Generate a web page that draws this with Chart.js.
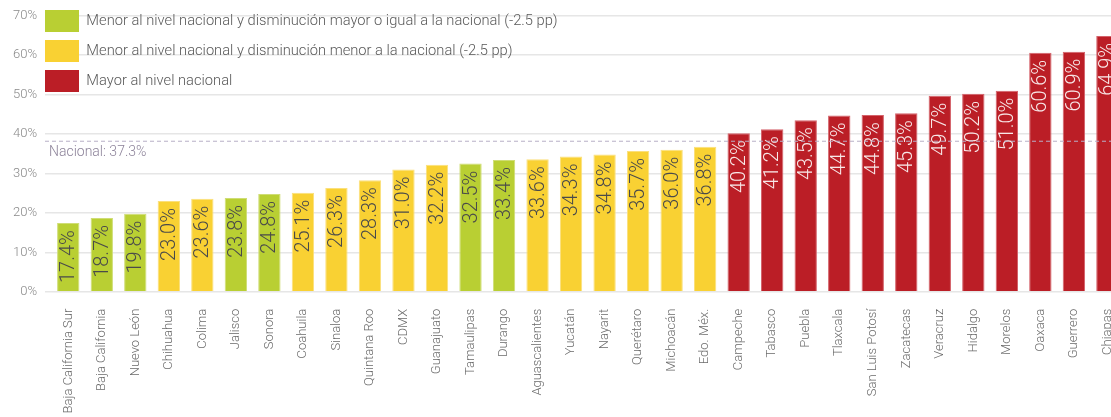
<!DOCTYPE html>
<html lang="es">
<head>
<meta charset="utf-8">
<title>Entidades federativas vs. nivel nacional</title>
<script src="https://cdn.jsdelivr.net/npm/chart.js@4.4.1/dist/chart.umd.min.js"></script>
<style>
    html, body { margin: 0; padding: 0; background: #fff; overflow: hidden; }
    #wrap { width: 1111px; height: 417px; overflow: hidden; }
    canvas { display: block; }
</style>
</head>
<body>
<div id="wrap"><canvas id="chart" width="1132" height="417"></canvas></div>
<script>
"use strict";

// --- Data ---
const estados = [
    'Baja California Sur', 'Baja California', 'Nuevo León', 'Chihuahua', 'Colima', 'Jalisco',
    'Sonora', 'Coahuila', 'Sinaloa', 'Quintana Roo', 'CDMX', 'Guanajuato', 'Tamaulipas',
    'Durango', 'Aguascalientes', 'Yucatán', 'Nayarit', 'Querétaro', 'Michoacán', 'Edo. Méx.',
    'Campeche', 'Tabasco', 'Puebla', 'Tlaxcala', 'San Luis Potosí', 'Zacatecas', 'Veracruz',
    'Hidalgo', 'Morelos', 'Oaxaca', 'Guerrero', 'Chiapas'
];
const porcentajes = [
    17.4, 18.7, 19.8, 23.0, 23.6, 23.8, 24.8, 25.1, 26.3, 28.3, 31.0, 32.2, 32.5, 33.4, 33.6, 34.3,
    34.8, 35.7, 36.0, 36.8, 40.2, 41.2, 43.5, 44.7, 44.8, 45.3, 49.7, 50.2, 51.0, 60.6, 60.9, 64.9
];
// v = verde, a = amarillo, r = rojo
const grupos = [
    'v', 'v', 'v', 'a', 'a', 'v', 'v', 'a', 'a', 'a', 'a', 'a', 'v', 'v', 'a', 'a',
    'a', 'a', 'a', 'a', 'r', 'r', 'r', 'r', 'r', 'r', 'r', 'r', 'r', 'r', 'r', 'r'
];
const leyendaTextos = [
    'Menor al nivel nacional y disminución mayor o igual a la nacional (-2.5 pp)',
    'Menor al nivel nacional y disminución menor a la nacional (-2.5 pp)',
    'Mayor al nivel nacional'
];
const leyendaGrupos = ['v', 'a', 'r'];
const nacionalTexto = 'Nacional: 37.3%';
const nacionalLinea = 38.3;   // where the dashed line sits in the picture
const yTicks = [0, 10, 20, 30, 40, 50, 60, 70];

// --- Styles ---
const FONT = '"Roboto", "Liberation Sans", Arial, sans-serif';
const fill = { v: '#b9cf33', a: '#f9d133', r: '#bb1e26' };
const edge = { v: '#cfdd75', a: '#fbe07c', r: '#d4626a' };
const labelInk = { v: '#4a4a4a', a: '#4a4a4a', r: '#f8e8e8' };
const gridColor = '#e6e6e6';

// Data labels inside the bars, rotated
const barLabels = {
    id: 'barLabels',
    afterDatasetsDraw(chart) {
        const { ctx } = chart;
        const meta = chart.getDatasetMeta(0);
        ctx.save();
        ctx.font = `300 20px ${FONT}`;
        ctx.textAlign = 'right';
        ctx.textBaseline = 'middle';
        meta.data.forEach((bar, i) => {
            ctx.save();
            ctx.translate(bar.x + 1, bar.y + 7);
            ctx.rotate(-Math.PI / 2);
            ctx.fillStyle = labelInk[grupos[i]];
            ctx.fillText(porcentajes[i].toFixed(1) + '%', 0, 0);
            ctx.restore();
        });
        ctx.restore();
    }
};

// Dashed national-level line and its caption
const nacional = {
    id: 'nacional',
    afterDatasetsDraw(chart) {
        const { ctx, chartArea } = chart;
        const y = chart.scales.y.getPixelForValue(nacionalLinea);
        ctx.save();
        ctx.strokeStyle = '#b8afc6';
        ctx.lineWidth = 1;
        ctx.setLineDash([4, 3]);
        ctx.beginPath();
        ctx.moveTo(chartArea.left - 6.5, y + 0.5);
        ctx.lineTo(chartArea.right, y + 0.5);
        ctx.stroke();
        ctx.setLineDash([]);
        ctx.font = `300 14px ${FONT}`;
        ctx.fillStyle = '#8c8299';
        ctx.textAlign = 'left';
        ctx.textBaseline = 'middle';
        ctx.fillText(nacionalTexto, chartArea.left - 2.5, y + 11.5);
        ctx.restore();
    }
};

// Move the legend up/left so it sits over the top-left corner of the plot
const legendShift = {
    id: 'legendShift',
    afterLayout(chart) {
        const lg = chart.legend;
        if (!lg) return;
        lg.left = chart.chartArea.left - 14.5;
        lg.top = 2;
        lg.right = lg.left + 700;
        lg.bottom = lg.top + 200;
    }
};

new Chart(document.getElementById('chart'), {
    type: 'bar',
    data: {
        labels: estados,
        datasets: [{
            label: 'Porcentaje',
            data: porcentajes,
            backgroundColor: grupos.map(g => fill[g]),
            borderColor: grupos.map(g => edge[g]),
            borderWidth: 1,
            categoryPercentage: 1,
            barPercentage: 0.667
        }]
    },
    options: {
        responsive: false,
        animation: false,
        layout: { padding: { top: 12, right: 0, bottom: 0, left: 0 } },
        plugins: {
            tooltip: { enabled: false },
            legend: {
                position: 'chartArea',
                align: 'start',
                labels: {
                    boxWidth: 34,
                    boxHeight: 22,
                    padding: 8,
                    textAlign: 'left',
                    color: '#595959',
                    font: { family: FONT, size: 14.7, weight: '300' },
                    generateLabels: () => leyendaTextos.map((t, i) => ({
                        text: t,
                        fillStyle: fill[leyendaGrupos[i]],
                        strokeStyle: edge[leyendaGrupos[i]],
                        lineWidth: 0,
                        fontColor: '#595959',
                        hidden: false,
                        datasetIndex: 0
                    }))
                }
            }
        },
        scales: {
            x: {
                grid: { display: false },
                border: { display: false },
                afterFit: scale => { scale.height = 125.3; },
                ticks: {
                    autoSkip: false,
                    maxRotation: 90,
                    minRotation: 90,
                    padding: 9,
                    color: '#6b6b6b',
                    font: { family: FONT, size: 13, weight: '300' }
                }
            },
            y: {
                min: 0,
                max: 70,
                afterFit: scale => { scale.width = 51.5; },
                afterBuildTicks: scale => { scale.ticks = yTicks.map(v => ({ value: v })); },
                border: { display: false },
                grid: { color: gridColor, lineWidth: 1.5, tickLength: 6.5 },
                ticks: {
                    padding: 8,
                    color: '#8a8a8a',
                    font: { family: FONT, size: 13, weight: '300' },
                    callback: v => v + '%'
                }
            }
        }
    },
    plugins: [barLabels, nacional, legendShift]
});
</script>
</body>
</html>
